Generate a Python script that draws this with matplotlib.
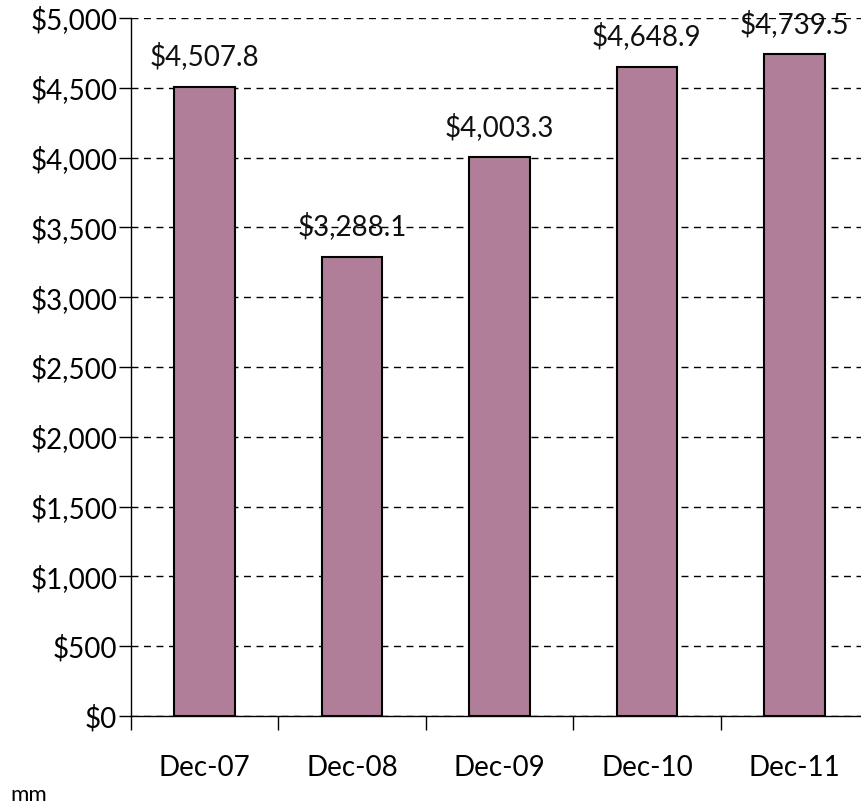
import numpy as np
import matplotlib.pyplot as plt
from matplotlib.ticker import FuncFormatter

# data
periods = ["Dec-07", "Dec-08", "Dec-09", "Dec-10", "Dec-11"]
values = [4507.8, 3288.1, 4003.3, 4648.9, 4739.5]
value_labels = ["$4,507.8", "$3,288.1", "$4,003.3", "$4,648.9", "$4,739.5"]
y_ticks = [0, 500, 1000, 1500, 2000, 2500, 3000, 3500, 4000, 4500, 5000]

BAR_COLOR = "#B07E98"
FONT = "Lato"
FS = 20

plt.rcParams["font.family"] = [FONT, "DejaVu Sans"]

fig = plt.figure(figsize=(8.62, 8.09), dpi=100)
W, H = 862, 809
# axes box in pixel coordinates: left 131, right 868, top 18, bottom 716
ax = fig.add_axes([131 / W, (H - 716) / H, 737 / W, 698 / H])

x = np.arange(len(periods))
ax.bar(x, values, width=0.41, color=BAR_COLOR, edgecolor="black", linewidth=1.5, zorder=3)

for xi, v, lab in zip(x, values, value_labels):
    ax.annotate(lab, (xi, v), xytext=(0, 22), textcoords="offset points",
                ha="center", va="center", fontsize=FS, color="#111111", zorder=1)

ax.set_xlim(-0.5, len(periods) - 0.5)
ax.set_ylim(0, 5000)
ax.set_yticks(y_ticks)
ax.yaxis.set_major_formatter(FuncFormatter(lambda v, _: f"${v:,.0f}"))
ax.yaxis.grid(True, linestyle=(0, (5, 4)), color="black", linewidth=1, zorder=0)

# category boundary ticks on x axis, labels centred
ax.set_xticks(np.arange(len(periods) + 1) - 0.5)
ax.set_xticklabels([])
ax.set_xticks(x, minor=True)
ax.set_xticklabels(periods, minor=True)
ax.tick_params(axis="x", which="major", direction="out", length=10, width=1)
ax.tick_params(axis="x", which="minor", length=0, pad=28, labelsize=FS)
ax.tick_params(axis="y", direction="out", length=9, width=1, pad=1, labelsize=FS)

for side in ["top", "right"]:
    ax.spines[side].set_visible(False)
ax.spines["left"].set_linewidth(1)
ax.spines["bottom"].set_linewidth(1)

fig.text(10 / W, 1 - 795 / H, "mm", fontsize=16, va="center", ha="left")

fig.savefig("out.png", dpi=100)
